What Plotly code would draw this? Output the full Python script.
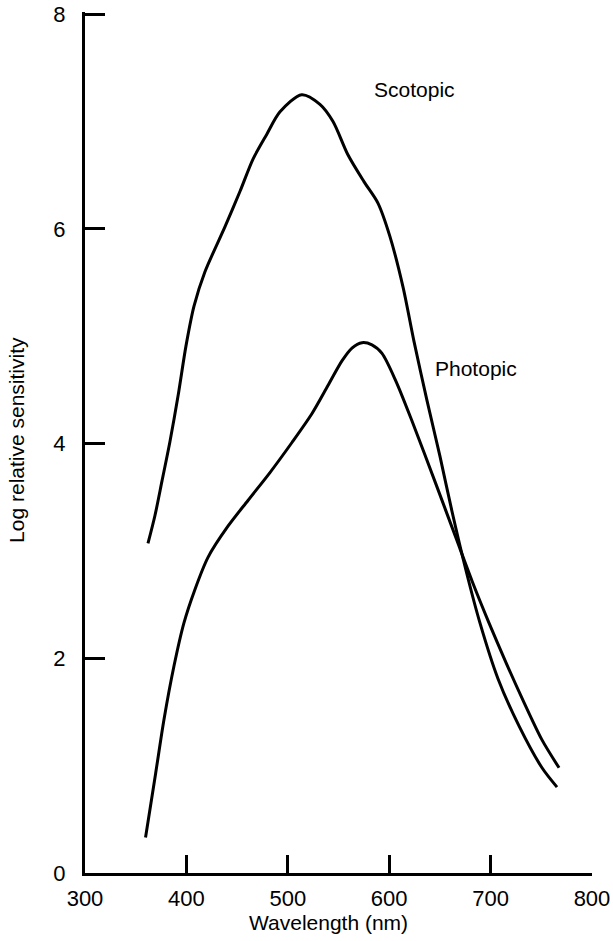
import plotly.graph_objects as go

# Scotopic curve (wavelength nm, log relative sensitivity)
scotopic_wl = [362.1, 369.0, 375.9, 383.8, 391.7, 399.6, 407.5, 418.3, 438.1, 452.9,
               465.7, 479.2, 492.3, 513.7, 531.7, 544.6, 559.3, 575.1, 588.9, 600.7,
               613.6, 624.5, 637.3, 650.1, 661.9, 675.7, 689.5, 707.3, 728.0, 750.7,
               765.5]
scotopic_val = [3.07, 3.33, 3.65, 4.02, 4.44, 4.91, 5.28, 5.60, 6.02, 6.35,
                6.65, 6.88, 7.09, 7.25, 7.16, 7.00, 6.69, 6.44, 6.24, 5.93,
                5.46, 4.95, 4.40, 3.88, 3.37, 2.82, 2.33, 1.81, 1.37, 0.98,
                0.80]

# Photopic curve
photopic_wl = [359.7, 369.7, 377.9, 387.8, 397.6, 408.0, 421.3, 441.0, 460.7, 482.4,
               504.1, 523.9, 539.6, 553.4, 563.3, 573.2, 583.0, 592.9, 606.7, 622.5,
               646.2, 665.9, 681.7, 698.4, 715.2, 732.9, 750.7, 767.5]
photopic_val = [0.33, 0.93, 1.43, 1.93, 2.33, 2.63, 2.94, 3.23, 3.47, 3.73,
                4.01, 4.28, 4.54, 4.77, 4.89, 4.94, 4.92, 4.84, 4.58, 4.21,
                3.62, 3.12, 2.72, 2.33, 1.96, 1.59, 1.24, 0.98]

x_ticks = [300, 400, 500, 600, 700, 800]
y_ticks = [0, 2, 4, 6, 8]

labels = ["Scotopic", "Photopic"]
label_x = [583, 643]
label_y = [7.30, 4.70]

FONT = "Liberation Sans, Arial, Helvetica, sans-serif"

fig = go.Figure()
for wl, val in [(scotopic_wl, scotopic_val), (photopic_wl, photopic_val)]:
    fig.add_trace(go.Scatter(x=wl, y=val, mode="lines",
                             line=dict(color="black", width=3, shape="spline", smoothing=0.8),
                             showlegend=False, hoverinfo="skip"))

for t, xx, yy in zip(labels, label_x, label_y):
    fig.add_annotation(x=xx, y=yy, text=t, showarrow=False, xanchor="left",
                       yanchor="middle", font=dict(family=FONT, size=21, color="black"))

# Axis titles
fig.add_annotation(x=0.481, y=0, xref="paper", yref="paper", text="Wavelength (nm)",
                   showarrow=False, xanchor="center", yanchor="middle", yshift=-49,
                   font=dict(family=FONT, size=21, color="black"))
fig.add_annotation(x=0, y=0.503, xref="paper", yref="paper", text="Log relative sensitivity",
                   showarrow=False, xanchor="center", yanchor="middle", xshift=-68,
                   textangle=-90, font=dict(family=FONT, size=21, color="black"))

fig.update_layout(
    width=613, height=941,
    margin=dict(l=85, r=21, t=12, b=68, autoexpand=False),
    paper_bgcolor="white", plot_bgcolor="white",
    font=dict(family=FONT, size=22, color="black"),
    showlegend=False,
)
fig.update_xaxes(
    range=[300, 800.01], tickvals=x_ticks, ticktext=[str(v) for v in x_ticks],
    showline=True, linecolor="black", linewidth=3, mirror=False,
    ticks="inside", ticklen=18, tickwidth=2.5, tickcolor="black",
    showgrid=False, zeroline=False, ticklabelstandoff=4, automargin=False,
    ticklabeloverflow="allow",
    tickfont=dict(family=FONT, size=22, color="black"),
)
fig.update_yaxes(
    range=[0, 8.02], tickvals=y_ticks, ticktext=[str(v) for v in y_ticks],
    showline=True, linecolor="black", linewidth=3, mirror=False,
    ticks="inside", ticklen=20, tickwidth=3, tickcolor="black",
    showgrid=False, zeroline=False, ticklabelstandoff=12, automargin=False,
    ticklabeloverflow="allow",
    tickfont=dict(family=FONT, size=22, color="black"),
)

fig.write_html("out.html")
